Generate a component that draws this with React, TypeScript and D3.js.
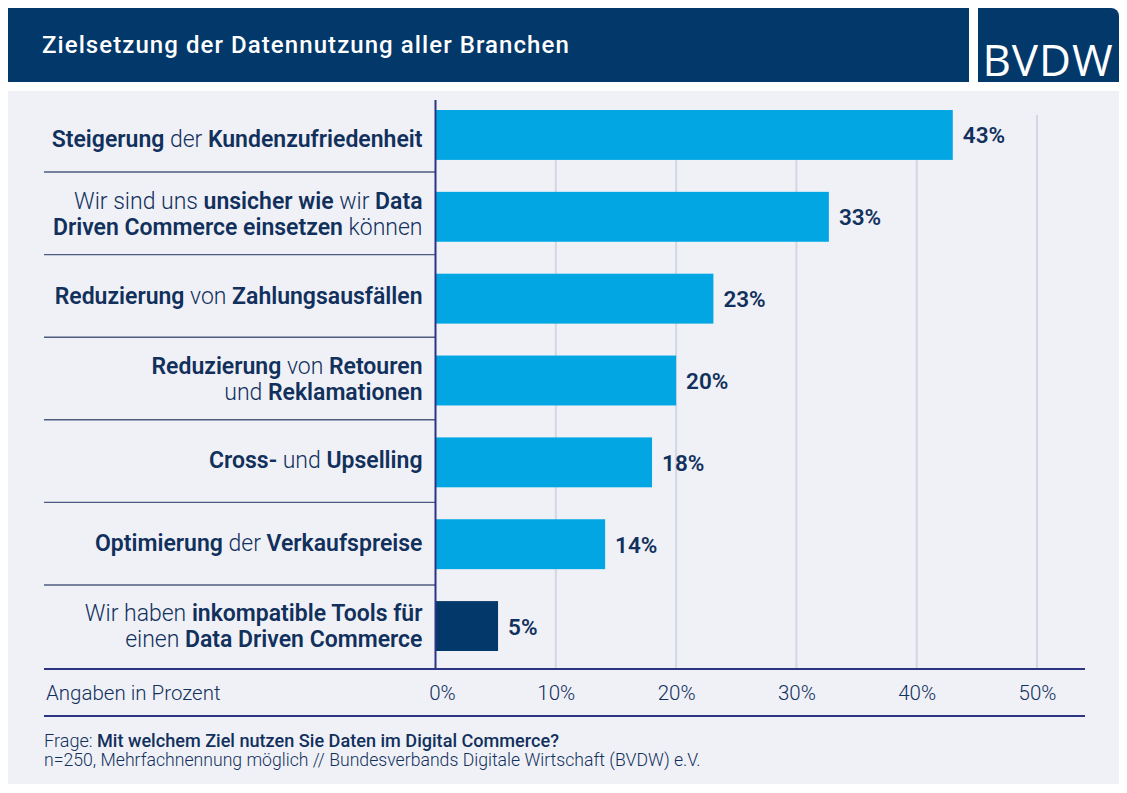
import React from 'react';
import * as d3 from 'd3';

type Seg = [string, boolean];

const title = 'Zielsetzung der Datennutzung aller Branchen';
const categories: Seg[][][] = [
  [[['Steigerung', true], [' der ', false], ['Kundenzufriedenheit', true]]],
  [
    [['Wir sind uns ', false], ['unsicher wie', true], [' wir ', false], ['Data', true]],
    [['Driven Commerce einsetzen', true], [' können', false]],
  ],
  [[['Reduzierung', true], [' von ', false], ['Zahlungsausfällen', true]]],
  [
    [['Reduzierung', true], [' von ', false], ['Retouren', true]],
    [['und ', false], ['Reklamationen', true]],
  ],
  [[['Cross-', true], [' und ', false], ['Upselling', true]]],
  [[['Optimierung', true], [' der ', false], ['Verkaufspreise', true]]],
  [
    [['Wir haben ', false], ['inkompatible Tools für', true]],
    [['einen ', false], ['Data Driven Commerce', true]],
  ],
];
const barValues = [43, 32.7, 23.1, 20, 18, 14.1, 5.2];
const valueLabels = ['43%', '33%', '23%', '20%', '18%', '14%', '5%'];
const ticks = [0, 10, 20, 30, 40, 50];

const NAVY = '#03386a';
const INK = '#12305c';
const CYAN = '#02a6e2';
const RULE = '#2d3481';
const FONT = 'Roboto, sans-serif';

const x = d3.scaleLinear().domain([0, 50]).range([435.5, 1037]);
const y = d3.scaleBand<number>().domain(d3.range(categories.length)).range([110, 651]).paddingInner(32 / 82).paddingOuter(0);
// the row rules drift slightly against the bars in the original
const sep = d3.scalePoint<number>().domain(d3.range(categories.length - 1)).range([172, 585]);
// label baselines sit a little differently per row in the original
const labelNudge = [4, -2.5, -2.5, -2, -2.5, -1.5, 0];

export default function App() {
  const band = y.bandwidth();
  return (
    <svg width={1127} height={793} style={{ position: 'absolute', left: 0, top: 0, background: '#fff' }} fontFamily={FONT}>
      <rect x={8} y={8} width={961} height={74} fill={NAVY} />
      <text x={42} y={53} fill="#fff" fontSize={24} fontWeight={500} letterSpacing={1.07}>{title}</text>
      <path d="M978 8H1111a8 8 0 0 1 8 8V82H978Z" fill={NAVY} />
      <text x={1048} y={76} textAnchor="middle" fill="#fff" fontSize={44} fontFamily="'Open Sans', sans-serif" fontWeight={400} letterSpacing={1}>BVDW</text>

      <rect x={8} y={91} width={1111} height={693} fill="#eff1f7" />

      {ticks.slice(1).map(t => (
        <line key={t} x1={x(t)} x2={x(t)} y1={115} y2={669} stroke="#d3d6e4" strokeWidth={2} />
      ))}

      {categories.slice(0, -1).map((_, i) => (
        <line key={i} x1={44} x2={435} y1={sep(i)} y2={sep(i)} stroke="#4d5b80" strokeWidth={1.4} />
      ))}

      {barValues.map((v, i) => (
        <rect key={i} x={x(0)} y={y(i)} width={x(v) - x(0)} height={band} fill={i === barValues.length - 1 ? NAVY : CYAN} />
      ))}

      <line x1={x(0)} x2={x(0)} y1={100} y2={669} stroke={RULE} strokeWidth={2} />
      <line x1={44} x2={1085} y1={669} y2={669} stroke={RULE} strokeWidth={2} />
      <line x1={44} x2={1085} y1={716} y2={716} stroke={RULE} strokeWidth={2} />

      {categories.map((lines, i) => {
        const mid = y(i)! + band / 2 + labelNudge[i];
        const first = mid + 8 - (lines.length - 1) * 13;
        return lines.map((segs, j) => (
          <text key={`${i}-${j}`} x={422.5} y={first + j * 26} textAnchor="end" fontSize={23} fill={INK}>
            {segs.map(([t, bold], k) => (
              <tspan key={k} fontWeight={bold ? 600 : 300} xmlSpace="preserve">{t}</tspan>
            ))}
          </text>
        ));
      })}

      {barValues.map((v, i) => (
        <text key={i} x={x(v) + 10} y={y(i)! + band / 2 + 8.5} fontSize={22.5} fontWeight={600} fill={INK}>{valueLabels[i]}</text>
      ))}

      <text x={46} y={700} fontSize={20.5} fontWeight={300} fill={INK}>Angaben in Prozent</text>
      {ticks.map(t => (
        <text key={t} x={t === 0 ? x(t) + 7 : x(t) + 0.5} y={700} textAnchor="middle" fontSize={20.5} fontWeight={300} fill={INK}>{t}%</text>
      ))}

      <text x={44} y={746.5} fontSize={18.1} fill={INK}>
        <tspan fontWeight={300}>Frage: </tspan>
        <tspan fontWeight={500}>Mit welchem Ziel nutzen Sie Daten im Digital Commerce?</tspan>
      </text>
      <text x={44} y={766} fontSize={17.65} fontWeight={300} fill={INK}>n=250, Mehrfachnennung möglich // Bundesverbands Digitale Wirtschaft (BVDW) e.V.</text>
    </svg>
  );
}
